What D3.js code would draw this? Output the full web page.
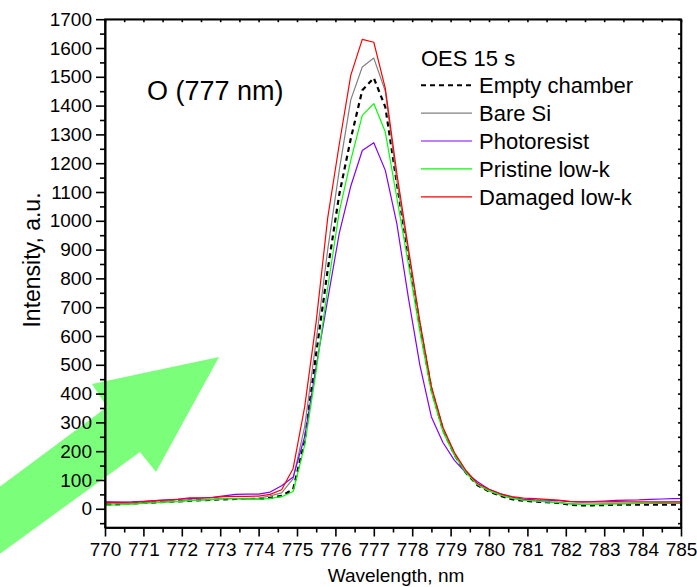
<!DOCTYPE html>
<html>
<head>
<meta charset="utf-8">
<script src="https://cdn.jsdelivr.net/npm/d3@7.9.0/dist/d3.min.js"></script>
<style>
  body { margin: 0; background: #fff; }
  svg text { font-family: Arial, "Liberation Sans", sans-serif; fill: #000; }
</style>
</head>
<body>
<svg id="chart" width="697" height="587"></svg>
<script>
// wavelengths (nm), one sample about every 0.3 nm
const wavelengths = [769.8, 770.1, 770.4, 770.7, 771.0, 771.3, 771.6, 771.9, 772.2, 772.5,
  772.8, 773.1, 773.4, 773.7, 774.0, 774.3, 774.6, 774.9, 775.2, 775.5,
  775.8, 776.1, 776.4, 776.7, 777.0, 777.3, 777.6, 777.9, 778.2, 778.5,
  778.8, 779.1, 779.4, 779.7, 780.0, 780.3, 780.6, 780.9, 781.2, 781.5,
  781.8, 782.1, 782.4, 782.7, 783.0, 783.3, 783.6, 783.9, 784.2, 784.5,
  784.8, 785.1];

const emptyChamber = [15, 15, 16, 18, 20, 22, 24, 26, 28, 30,
  31, 33, 34, 34, 34, 38, 45, 68, 234, 540,
  830, 1091, 1285, 1453, 1496, 1395, 1130, 880, 635, 415,
  275, 188, 125, 82, 60, 45, 33, 28, 25, 23,
  20, 14, 12, 12, 13, 14, 14, 14, 14, 14,
  14, 14];

const bareSi = [16, 17, 18, 19, 21, 23, 25, 27, 30, 31,
  33, 35, 36, 36, 37, 45, 55, 105, 285, 585,
  900, 1175, 1420, 1534, 1565, 1450, 1140, 890, 640, 418,
  278, 190, 128, 84, 62, 47, 36, 30, 27, 25,
  22, 18, 16, 16, 17, 18, 18, 19, 19, 19,
  19, 19];

const photoresist = [24, 24, 23, 24, 26, 28, 31, 33, 35, 37,
  40, 45, 50, 51, 51, 58, 80, 110, 250, 495,
  727, 956, 1120, 1244, 1271, 1175, 990, 733, 499, 319,
  230, 168, 125, 94, 68, 52, 40, 33, 31, 30,
  28, 25, 24, 25, 27, 29, 30, 31, 33, 34,
  35, 35];

const pristineLowK = [12, 13, 14, 16, 19, 21, 23, 25, 28, 30,
  32, 34, 34, 33, 33, 36, 42, 60, 221, 478,
  767, 1031, 1210, 1366, 1407, 1308, 1080, 850, 615, 405,
  268, 185, 125, 84, 62, 48, 37, 30, 27, 24,
  21, 17, 15, 15, 16, 17, 18, 19, 20, 22,
  23, 24];

const damagedLowK = [22, 22, 22, 23, 25, 28, 30, 33, 38, 38,
  39, 42, 43, 43, 44, 50, 66, 140, 354, 650,
  1010, 1265, 1505, 1630, 1620, 1460, 1165, 905, 650, 425,
  283, 195, 133, 88, 68, 52, 42, 37, 35, 33,
  30, 26, 24, 24, 24, 25, 24, 24, 24, 24,
  24, 24];

const seriesNames = ['Empty chamber', 'Bare Si', 'Photoresist', 'Pristine low-k', 'Damaged low-k'];
const seriesColors = ['#000000', '#808080', '#8000ff', '#00ff00', '#ff0000'];
const seriesValues = [emptyChamber, bareSi, photoresist, pristineLowK, damagedLowK];

const xTicks = d3.range(770, 786, 1);
const yTicks = d3.range(0, 1701, 100);

const svg = d3.select('#chart');
const plotLeft = 105, plotRight = 681, plotTop = 19.2, plotBottom = 527.5;

const x = d3.scaleLinear().domain([770, 785]).range([plotLeft, plotRight]);
const y = d3.scaleLinear().domain([-65, 1700]).range([plotBottom, plotTop]);

svg.append('rect').attr('width', 697).attr('height', 587).attr('fill', '#fff');

// green arrow annotation (sits under the axes)
svg.append('polygon')
  .attr('points', '-10,494 107,407 92,384 219,357 156,472 140,452 -10,561')
  .attr('fill', '#7bff7b');

svg.append('clipPath').attr('id', 'plotClip')
  .append('rect').attr('x', plotLeft).attr('y', plotTop)
  .attr('width', plotRight - plotLeft).attr('height', plotBottom - plotTop);

// data lines
let line = d3.line().x((d, i) => x(wavelengths[i])).y((d) => y(d));
let plot = svg.append('g').attr('clip-path', 'url(#plotClip)');
seriesValues.forEach((vals, idx) => {
  plot.append('path')
    .attr('d', line(vals))
    .attr('fill', 'none')
    .attr('stroke', seriesColors[idx])
    .attr('stroke-width', idx === 0 ? 2.2 : 1.2)
    .attr('stroke-dasharray', idx === 0 ? '5,4' : null)
    .attr('stroke-linejoin', 'round');
});

// axes
const fontTick = '19px';
let xAxis = svg.append('g').attr('transform', `translate(0,${plotBottom})`)
  .call(d3.axisBottom(x).tickValues(xTicks).tickSize(9).tickSizeOuter(0).tickPadding(6).tickFormat(d3.format('d')));
let xMinor = svg.append('g').attr('transform', `translate(0,${plotBottom})`)
  .call(d3.axisBottom(x).tickValues(xTicks.slice(0, -1).map((d) => d + 0.5)).tickSize(5).tickSizeOuter(0).tickFormat(''));
let yAxis = svg.append('g').attr('transform', `translate(${plotLeft},0)`)
  .call(d3.axisLeft(y).tickValues(yTicks).tickSize(9).tickSizeOuter(0).tickPadding(4).tickFormat(d3.format('d')));
let yMinor = svg.append('g').attr('transform', `translate(${plotLeft},0)`)
  .call(d3.axisLeft(y).tickValues(d3.range(-50, 1700, 100)).tickSize(5).tickSizeOuter(0).tickFormat(''));
// mirror frame with small inward ticks
let xTop = svg.append('g').attr('transform', `translate(0,${plotTop})`)
  .call(d3.axisTop(x).tickValues(d3.range(770, 785.1, 0.5)).tickSize(-3).tickSizeOuter(0).tickFormat(''));
let yRight = svg.append('g').attr('transform', `translate(${plotRight},0)`)
  .call(d3.axisRight(y).tickValues(d3.range(-50, 1701, 50)).tickSize(-3).tickSizeOuter(0).tickFormat(''));

[xAxis, xMinor, yAxis, yMinor, xTop, yRight].forEach((g) => {
  g.select('.domain').attr('stroke', '#000').attr('stroke-width', 1.6);
  g.selectAll('.tick line').attr('stroke', '#000').attr('stroke-width', 1.6);
  g.selectAll('text').attr('font-size', fontTick).attr('fill', '#000');
});
svg.append('rect').attr('x', plotLeft).attr('y', plotTop)
  .attr('width', plotRight - plotLeft).attr('height', plotBottom - plotTop)
  .attr('fill', 'none').attr('stroke', '#000').attr('stroke-width', 1.6);

// axis titles
svg.append('text').attr('x', 396).attr('y', 582).attr('text-anchor', 'middle')
  .attr('font-size', '19px').text('Wavelength, nm');
svg.append('text').attr('transform', 'translate(40,260) rotate(-90)').attr('text-anchor', 'middle')
  .attr('font-size', '23px').text('Intensity, a.u.');

// annotation
svg.append('text').attr('x', 147).attr('y', 100).attr('font-size', '27px').text('O (777 nm)');

// legend
let legend = svg.append('g');
legend.append('text').attr('x', 421).attr('y', 66).attr('font-size', '22px').text('OES 15 s');
seriesNames.forEach((name, idx) => {
  let cy = 85.2 + idx * 27.9;
  legend.append('line')
    .attr('x1', 421).attr('x2', 472).attr('y1', cy).attr('y2', cy)
    .attr('stroke', seriesColors[idx])
    .attr('stroke-width', idx === 0 ? 2 : 1.2)
    .attr('stroke-dasharray', idx === 0 ? '5,4' : null);
  legend.append('text').attr('x', 479).attr('y', cy + 8).attr('font-size', '22px').text(name);
});
</script>
</body>
</html>
